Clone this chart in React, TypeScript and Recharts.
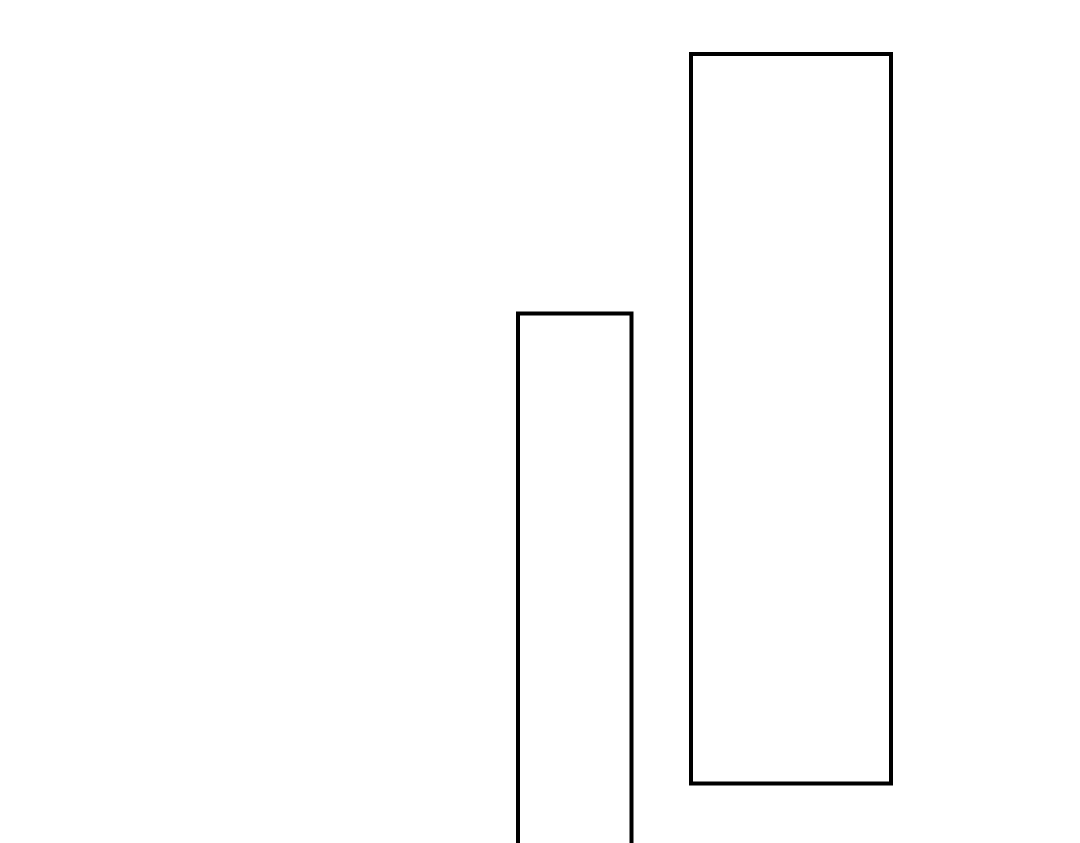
import { ComposedChart, XAxis, YAxis, ReferenceArea } from "recharts";

// two outlined range boxes on a bare plot (no axes, no labels)
const boxNames = ["A", "B"];
const boxStart = [518, 691];
const boxEnd = [631.5, 891];
const boxLow = [-20, 59.5];
const boxHigh = [529.5, 789];

const boxes = boxNames.map((name, i) => ({
  name,
  x1: boxStart[i],
  x2: boxEnd[i],
  y1: boxLow[i],
  y2: boxHigh[i],
}));

export default function App() {
  return (
    <div style={{ position: "absolute", left: 0, top: 0, background: "#fff" }}>
      <ComposedChart
        width={1080}
        height={843}
        data={[]}
        margin={{ top: 0, right: 0, bottom: 0, left: 0 }}
      >
        <XAxis type="number" dataKey="x" domain={[0, 1080]} allowDataOverflow hide />
        <YAxis type="number" domain={[0, 843]} allowDataOverflow hide />
        {boxes.map((b) => (
          <ReferenceArea
            key={b.name}
            x1={b.x1}
            x2={b.x2}
            y1={b.y1}
            y2={b.y2}
            ifOverflow="hidden"
            fill="#ffffff"
            fillOpacity={1}
            stroke="#000000"
            strokeOpacity={1}
            strokeWidth={4}
          />
        ))}
      </ComposedChart>
    </div>
  );
}
